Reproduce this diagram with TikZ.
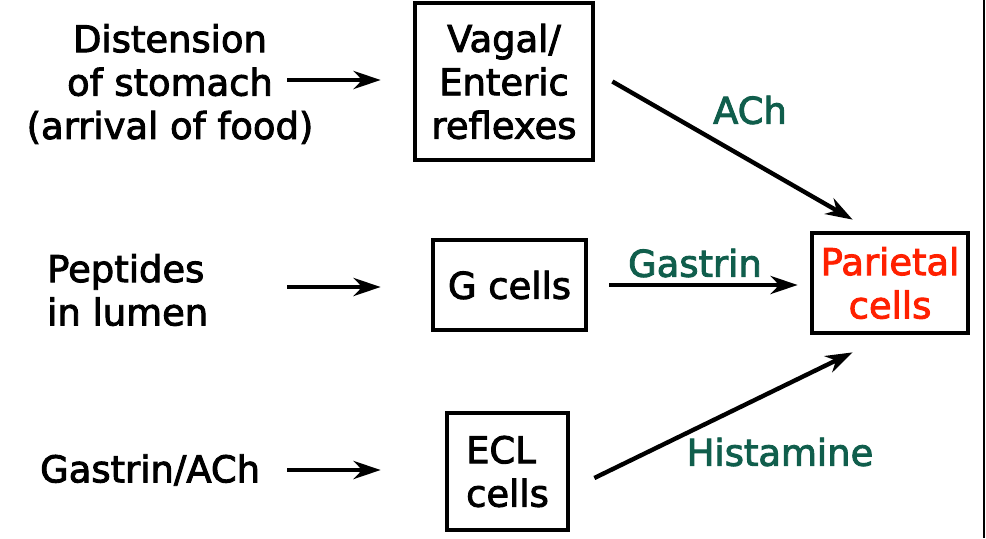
\documentclass[tikz,border=0pt]{standalone}
\usepackage{fontspec}
\setmainfont[FakeBold=2.5]{DejaVu Sans}
\usetikzlibrary{arrows.meta}

\definecolor{hormone}{RGB}{16,94,76}
\definecolor{target}{RGB}{255,32,0}

\tikzset{
    cellbox/.style={draw, line width=2.7pt, inner sep=0pt, align=center},
    arr/.style={line width=2.5pt, -{Stealth[length=0.54cm, width=0.36cm, inset=0.17cm]}},
    lbl/.style={text=hormone},
}

\begin{document}
\begin{tikzpicture}[x=0.02cm, y=-0.02cm, font=\fontsize{21}{24.7}\selectfont]

            \useasboundingbox (0, 0) rectangle (986, 538);
            \fill[white] (0, 0) rectangle (986, 538);
            \draw[line width=1.1pt] (984, 0) to (984, 538);

            %%draw the boxes
            \node[cellbox, minimum width=3.56cm, minimum height=3.14cm] (vagal) at (504, 81.5){Vagal/\\Enteric\\reflexes};
            \node[cellbox, minimum width=3.06cm, minimum height=1.8cm] (gcells) at (509.5, 285){G cells};
            \node[cellbox, minimum width=2.42cm, minimum height=2.34cm, align=left] (ecl) at (507.5, 471.5){ECL\\cells};
            \node[cellbox, minimum width=3.12cm, minimum height=2cm, text=target] (parietal) at (890, 283){Parietal\\cells};

            %%the stimuli
            \node[align=center] (dist) at (170, 84){Distension\\of stomach\\(arrival of food)};
            \node[align=left, anchor=west] (pept) at (41, 290){Peptides\\in lumen};
            \node[anchor=west] (gach) at (34, 470){Gastrin/ACh};
                \coordinate (in1) at (287, 80);
                \coordinate (in2) at (287, 287);
                \coordinate (in3) at (287, 470);

            %%the messengers
            \node[lbl] (ach) at (750, 110){ACh};
            \node[lbl] (gas) at (695, 263){Gastrin};
            \node[lbl] (hist) at (780, 452){Histamine};

            %%draw the arrows
            \draw[arr, shorten >=0.64cm] (in1) to (in1 -| vagal.west);
            \draw[arr, shorten >=1cm] (in2) to (in2 -| gcells.west);
            \draw[arr, shorten >=1.28cm] (in3) to (in3 -| ecl.west);

            \draw[arr] ([xshift=0.34cm]vagal.east) to ([xshift=0.86cm, yshift=0.22cm]parietal.north west);
            \draw[arr, shorten <=0.42cm, shorten >=0.24cm] (gcells.east) to (gcells.east -| parietal.west);
            \draw[arr] ([xshift=0.48cm, yshift=-0.13cm]ecl.east) to ([xshift=0.86cm, yshift=-0.34cm]parietal.south west);
        \end{tikzpicture}
\end{document}
